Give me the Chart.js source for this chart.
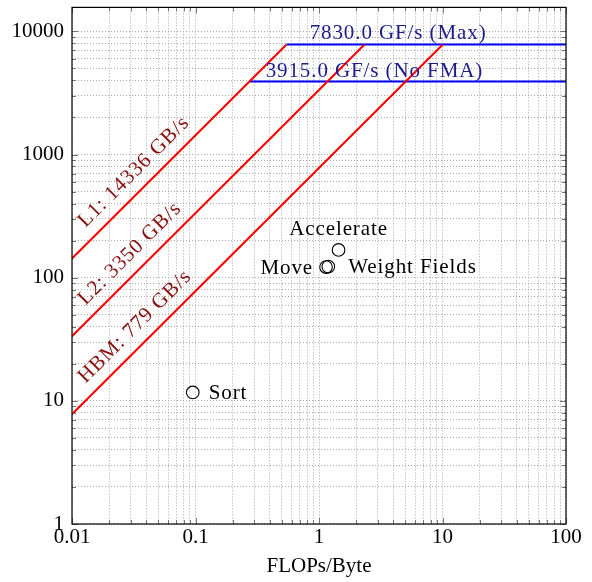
<!DOCTYPE html>
<html>
<head>
<meta charset="utf-8">
<title>Roofline</title>
<script src="https://cdn.jsdelivr.net/npm/chart.js@4.4.0/dist/chart.umd.min.js"></script>
<style>
body{margin:0;background:#fff;}
</style>
</head>
<body>
<canvas id="roofChart" width="592" height="582"></canvas>
<script>
// memory rooflines (GB/s) and compute ceilings (GF/s)
const roofNames = ['L1', 'L2', 'HBM'];
const roofBandwidth = [14336, 3350, 779];
const ceilingNames = ['Max', 'No FMA'];
const ceilingValues = [7830.0, 3915.0];

// measured kernels: arithmetic intensity (FLOPs/Byte) and GF/s
const kernelNames = ['Sort', 'Move', 'Weight Fields', 'Accelerate'];
const kernelIntensity = [0.095, 1.14, 1.19, 1.44];
const kernelPerf = [11.7, 122, 123, 168];

// axis ticks
const xTickValues = [0.01, 0.1, 1, 10, 100];
const xTickLabels = ['0.01', '0.1', '1', '10', '100'];
const yTickValues = [1, 10, 100, 1000, 10000];
const yTickLabels = ['1', '10', '100', '1000', '10000'];
const xMin = 0.01, xMax = 100, yMin = 1, yMax = 15660;

const FONT = '"Liberation Serif", "Times New Roman", serif';
const FSIZE = 21;

// 1..9 x 10^n between min and max (major + minor grid)
function logTicks(min, max){
    let out = [];
    for(let e = Math.floor(Math.log10(min)); e <= Math.ceil(Math.log10(max)); e++){
        for(let m = 1; m < 10; m++){
            let v = parseFloat((m * Math.pow(10, e)).toPrecision(6));
            if(v >= min * 0.999 && v <= max * 1.001) out.push(v);
        }
    }
    return out;
}

function labelFor(v, values, labels){
    for(let i = 0; i < values.length; i++){
        if(Math.abs(v - values[i]) / values[i] < 1e-6) return labels[i];
    }
    return '';
}

function isMajor(v){
    let l = Math.log10(v);
    return Math.abs(l - Math.round(l)) < 1e-6;
}

const maxCeil = Math.max(...ceilingValues);
const fastestBW = Math.max(...roofBandwidth);

let datasets = [];
roofBandwidth.forEach((bw, i) => {
    datasets.push({
        label: roofNames[i],
        data: [{x: xMin, y: bw * xMin}, {x: maxCeil / bw, y: maxCeil}],
        showLine: true,
        borderColor: '#ff0000',
        borderWidth: 2,
        pointRadius: 0
    });
});
ceilingValues.forEach((c, i) => {
    datasets.push({
        label: ceilingNames[i],
        data: [{x: c / fastestBW, y: c}, {x: xMax, y: c}],
        showLine: true,
        borderColor: '#0000ff',
        borderWidth: 2,
        pointRadius: 0
    });
});
datasets.push({
    label: 'kernels',
    data: kernelNames.map((n, i) => ({x: kernelIntensity[i], y: kernelPerf[i]})),
    pointStyle: 'circle',
    pointRadius: 6.3,
    borderColor: '#000',
    borderWidth: 1.1,
    backgroundColor: 'rgba(0,0,0,0)',
    showLine: false
});

const decorPlugin = {
    id: 'decor',
    afterDatasetsDraw(chart){
        const {ctx, chartArea: a, scales: {x, y}} = chart;
        ctx.save();

        // tick marks drawn inward on all four sides
        ctx.strokeStyle = '#777';
        ctx.lineWidth = 1;
        ctx.beginPath();
        x.ticks.forEach(t => {
            const px = Math.round(x.getPixelForValue(t.value)) + 0.5;
            const len = isMajor(t.value) ? 6 : 4;
            ctx.moveTo(px, a.bottom); ctx.lineTo(px, a.bottom - len);
            ctx.moveTo(px, a.top); ctx.lineTo(px, a.top + len);
        });
        y.ticks.forEach(t => {
            const py = Math.round(y.getPixelForValue(t.value)) + 0.5;
            const len = isMajor(t.value) ? 6 : 4;
            ctx.moveTo(a.left, py); ctx.lineTo(a.left + len, py);
            ctx.moveTo(a.right, py); ctx.lineTo(a.right - len, py);
        });
        ctx.stroke();

        ctx.font = FSIZE + 'px ' + FONT;
        ctx.letterSpacing = '0.9px';

        // bandwidth labels along each roof
        roofBandwidth.forEach((bw, i) => {
            const px = a.left + 22;
            const xv = x.getValueForPixel(px);
            const py = y.getPixelForValue(bw * xv);
            const qx = x.getPixelForValue(xv * 10);
            const qy = y.getPixelForValue(bw * xv * 10);
            ctx.save();
            ctx.translate(px, py);
            ctx.rotate(Math.atan2(qy - py, qx - px));
            ctx.fillStyle = '#8a1010';
            ctx.textAlign = 'left';
            ctx.textBaseline = 'alphabetic';
            ctx.fillText(roofNames[i] + ': ' + bw + ' GB/s', 0, -12);
            ctx.restore();
        });

        // compute ceiling labels
        const ceilLabelX = [0.84, 0.37];
        ceilingValues.forEach((c, i) => {
            ctx.fillStyle = '#1c1c8c';
            ctx.textAlign = 'left';
            ctx.textBaseline = 'alphabetic';
            ctx.fillText(c.toFixed(1) + ' GF/s (' + ceilingNames[i] + ')',
                x.getPixelForValue(ceilLabelX[i]), y.getPixelForValue(c) - 5);
        });

        // kernel names next to their markers
        const side = {'Sort': 'right', 'Move': 'left', 'Weight Fields': 'right', 'Accelerate': 'above'};
        ctx.fillStyle = '#000';
        kernelNames.forEach((n, i) => {
            const px = x.getPixelForValue(kernelIntensity[i]);
            const py = y.getPixelForValue(kernelPerf[i]);
            const s = side[n];
            if(s === 'above'){
                ctx.textAlign = 'center'; ctx.textBaseline = 'alphabetic';
                ctx.fillText(n, px, py - 15);
            }else if(s === 'left'){
                ctx.textAlign = 'right'; ctx.textBaseline = 'middle';
                ctx.fillText(n, px - 13, py + 1);
            }else{
                ctx.textAlign = 'left'; ctx.textBaseline = 'middle';
                ctx.fillText(n, px + (n === 'Sort' ? 16 : 20), py + 1);
            }
        });
        ctx.letterSpacing = '0px';

        // axis frame
        ctx.strokeStyle = '#000';
        ctx.lineWidth = 1.2;
        ctx.strokeRect(a.left, a.top, a.right - a.left, a.bottom - a.top);
        ctx.restore();
    }
};

const ctx = document.getElementById('roofChart').getContext('2d');
const roofChart = new Chart(ctx, {
    type: 'scatter',
    data: {datasets: datasets},
    options: {
        responsive: false,
        animation: false,
        layout: {padding: {top: 7, right: 26, left: 0, bottom: 0}},
        plugins: {legend: {display: false}, tooltip: {enabled: false}},
        scales: {
            x: {
                type: 'logarithmic',
                min: xMin,
                max: xMax,
                afterBuildTicks: s => { s.ticks = logTicks(xMin, xMax).map(v => ({value: v})); },
                afterFit: s => { s.height = 58; s.paddingLeft = 0; s.paddingRight = 0; },
                ticks: {
                    autoSkip: false, maxRotation: 0, padding: 1, color: '#000',
                    font: {family: FONT, size: FSIZE},
                    callback: v => labelFor(v, xTickValues, xTickLabels)
                },
                grid: {color: '#a8a8a8', lineWidth: 1, drawTicks: false},
                border: {display: false, dash: [1, 2]},
                title: {
                    display: true, text: 'FLOPs/Byte', color: '#000',
                    font: {family: FONT, size: FSIZE}, padding: {top: 0, bottom: 3}
                }
            },
            y: {
                type: 'logarithmic',
                min: yMin,
                max: yMax,
                afterBuildTicks: s => { s.ticks = logTicks(yMin, yMax).map(v => ({value: v})); },
                afterFit: s => { s.width = 72; s.paddingTop = 0; s.paddingBottom = 0; },
                ticks: {
                    autoSkip: false, padding: 8, color: '#000',
                    font: {family: FONT, size: FSIZE},
                    callback: v => labelFor(v, yTickValues, yTickLabels)
                },
                grid: {color: '#a8a8a8', lineWidth: 1, drawTicks: false},
                border: {display: false, dash: [1, 2]}
            }
        }
    },
    plugins: [decorPlugin]
});
</script>
</body>
</html>
